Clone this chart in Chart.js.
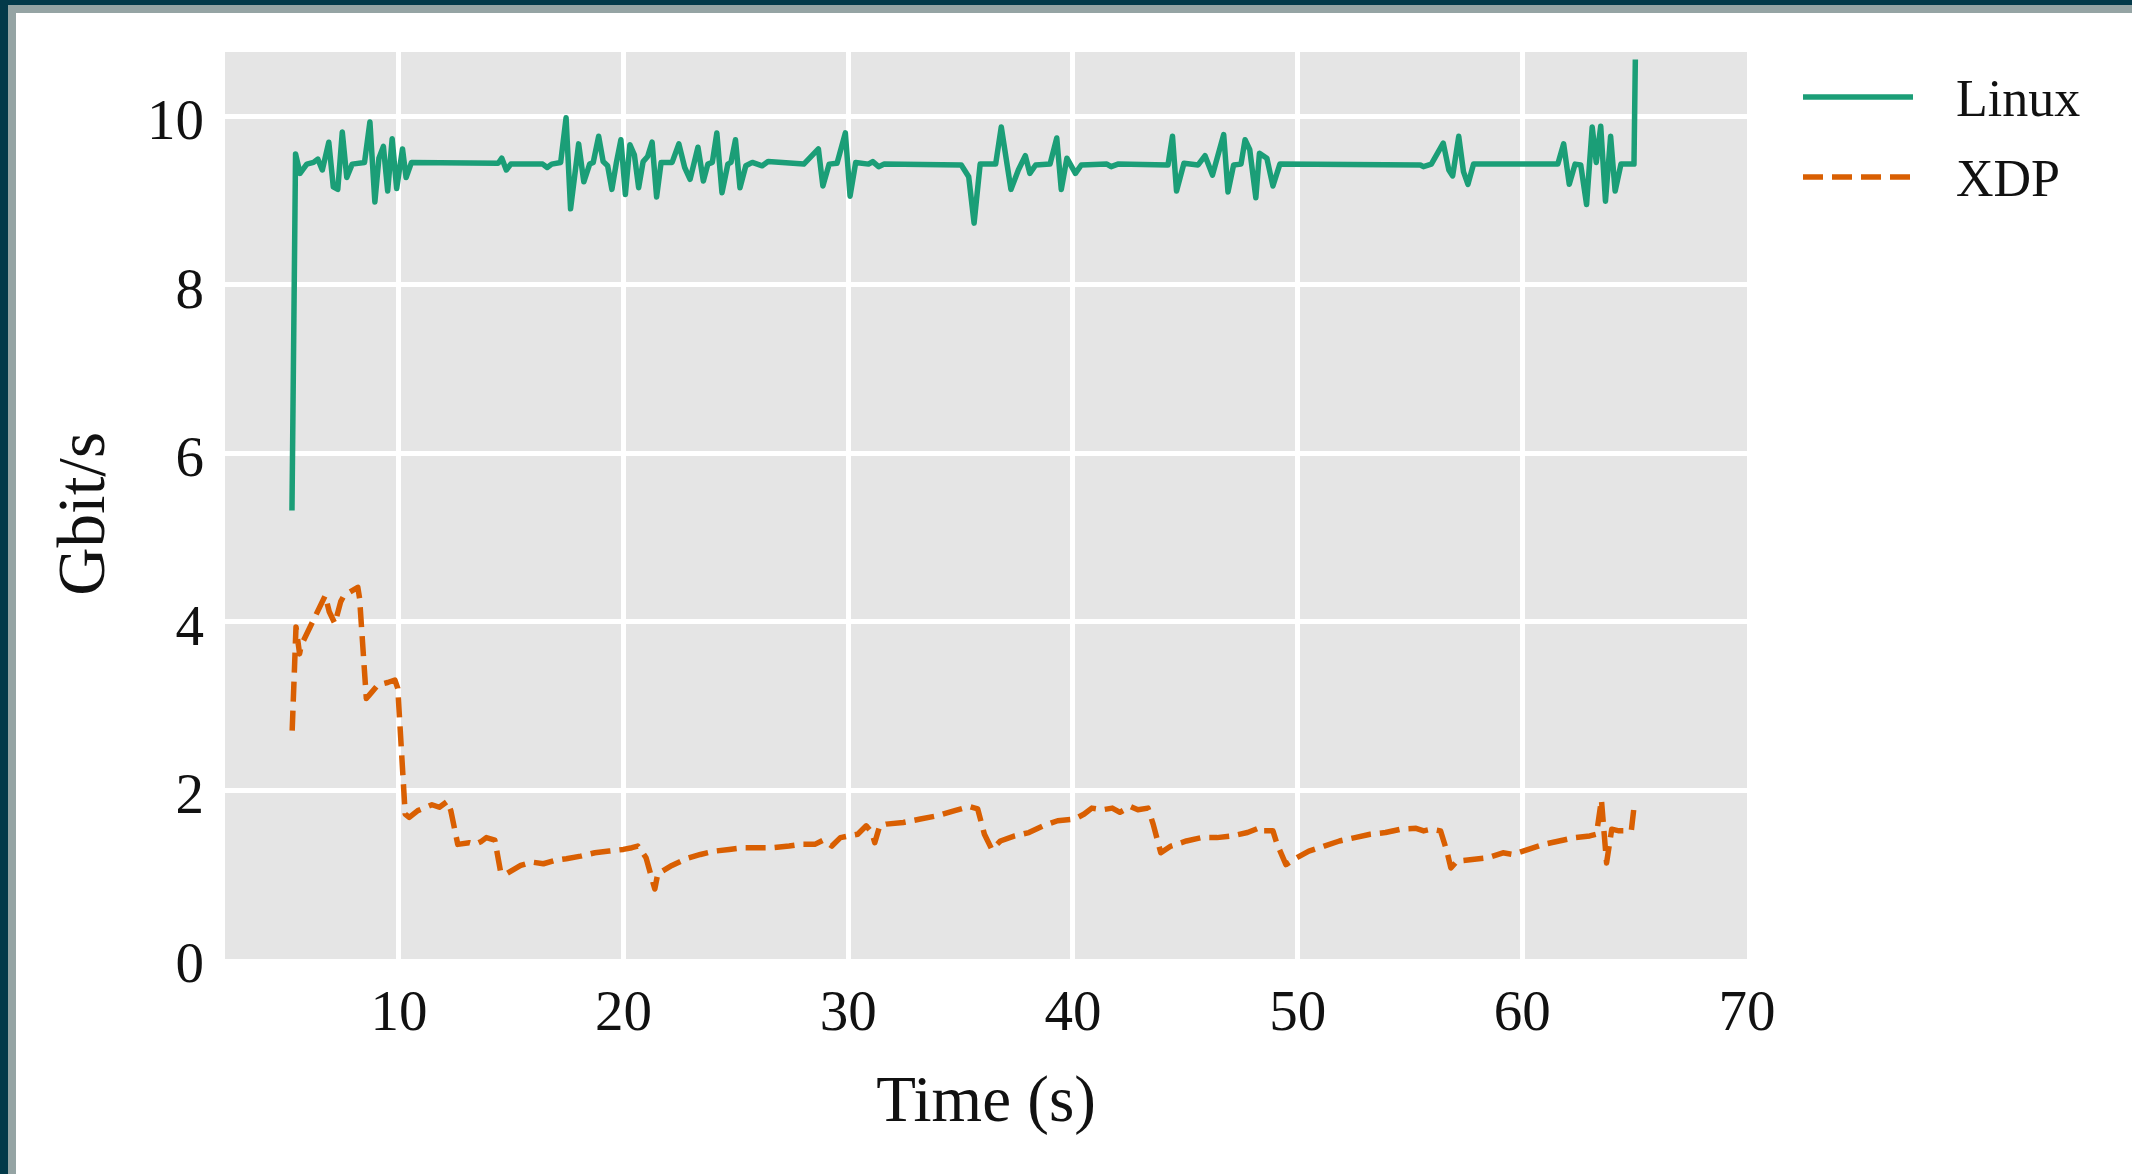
<!DOCTYPE html>
<html>
<head>
<meta charset="utf-8">
<title>Linux vs XDP throughput</title>
<script src="https://cdn.jsdelivr.net/npm/chart.js@4.4.1/dist/chart.umd.min.js"></script>
<style>
html, body { margin: 0; padding: 0; background: #fff; overflow: hidden; }
#frame { width: 2132px; height: 1174px; box-sizing: border-box; border-top: 5px solid #033a4a; border-left: 8px solid #033a4a; }
#inner { width: 2124px; height: 1169px; box-sizing: border-box; border-top: 8px solid #95a4a4; border-left: 8px solid #95a4a4; background: #fff; }
canvas { display: block; }
</style>
</head>
<body>
<div id="frame"><div id="inner"><canvas id="chart" width="2116" height="1161"></canvas></div></div>
<script>
// Linux throughput (Gbit/s) over time (s)
const linuxT = [5.24, 5.40, 5.60, 5.90, 6.20, 6.39, 6.59, 6.88, 7.08, 7.28, 7.48, 7.68, 7.92, 8.47, 8.71, 8.93, 9.11, 9.31, 9.50, 9.70,
  9.90, 10.16, 10.32, 10.56, 14.42, 14.58, 14.78, 14.98, 16.40, 16.60, 16.80, 17.20, 17.44, 17.64, 18.00, 18.23, 18.49, 18.65, 18.89, 19.09,
  19.29, 19.48, 19.68, 19.88, 20.08, 20.28, 20.48, 20.67, 20.87, 21.07, 21.27, 21.47, 21.67, 22.16, 22.46, 22.72, 22.96, 23.31, 23.55, 23.75,
  23.95, 24.15, 24.38, 24.64, 24.78, 24.98, 25.18, 25.44, 25.73, 26.17, 26.43, 28.02, 28.67, 28.87, 29.15, 29.50, 29.87, 30.08, 30.33, 30.90,
  31.09, 31.35, 31.60, 35.03, 35.36, 35.60, 35.87, 36.56, 36.81, 37.24, 37.57, 37.88, 38.08, 38.34, 38.98, 39.28, 39.48, 39.73, 40.11, 40.37,
  41.51, 41.70, 42.00, 44.23, 44.43, 44.61, 44.94, 45.57, 45.88, 46.21, 46.71, 46.90, 47.15, 47.48, 47.66, 47.87, 48.14, 48.30, 48.63, 48.90,
  49.21, 55.46, 55.60, 55.95, 56.48, 56.73, 56.90, 57.17, 57.38, 57.58, 57.83, 61.58, 61.84, 62.09, 62.35, 62.60, 62.86, 63.11, 63.29, 63.49,
  63.70, 63.93, 64.13, 64.39, 64.97, 65.03];
const linuxV = [5.32, 9.55, 9.32, 9.43, 9.45, 9.49, 9.36, 9.69, 9.16, 9.13, 9.81, 9.27, 9.43, 9.45, 9.93, 8.98, 9.50, 9.64, 9.11, 9.73,
  9.14, 9.61, 9.27, 9.45, 9.44, 9.50, 9.36, 9.43, 9.43, 9.39, 9.43, 9.45, 9.98, 8.90, 9.67, 9.22, 9.43, 9.45, 9.76, 9.46,
  9.41, 9.13, 9.45, 9.72, 9.07, 9.66, 9.54, 9.15, 9.46, 9.52, 9.69, 9.04, 9.45, 9.45, 9.67, 9.39, 9.25, 9.63, 9.23, 9.43,
  9.45, 9.80, 9.09, 9.43, 9.45, 9.72, 9.15, 9.41, 9.45, 9.41, 9.46, 9.43, 9.61, 9.17, 9.43, 9.44, 9.80, 9.05, 9.45, 9.43,
  9.46, 9.40, 9.43, 9.42, 9.28, 8.73, 9.43, 9.43, 9.87, 9.13, 9.36, 9.53, 9.32, 9.42, 9.43, 9.74, 9.13, 9.50, 9.32, 9.42,
  9.43, 9.40, 9.43, 9.42, 9.76, 9.11, 9.44, 9.42, 9.53, 9.30, 9.78, 9.10, 9.42, 9.43, 9.72, 9.60, 9.03, 9.56, 9.50, 9.17,
  9.43, 9.42, 9.40, 9.43, 9.68, 9.36, 9.29, 9.76, 9.34, 9.19, 9.43, 9.43, 9.67, 9.19, 9.43, 9.42, 8.95, 9.87, 9.45, 9.88,
  8.99, 9.76, 9.11, 9.43, 9.43, 10.67];

// XDP throughput (Gbit/s) over time (s)
const xdpT = [5.25, 5.42, 5.58, 5.65, 6.72, 6.90, 7.15, 7.41, 7.53, 7.79, 8.17, 8.25, 8.55, 8.68, 9.06, 9.50, 9.82, 9.95, 10.28, 10.46,
  10.84, 11.47, 11.80, 12.16, 12.31, 12.62, 13.13, 13.40, 13.64, 13.89, 14.27, 14.53, 14.78, 15.42, 15.92, 16.43, 16.94, 17.45, 18.09, 18.72,
  19.36, 19.99, 20.37, 20.63, 20.75, 21.00, 21.39, 21.52, 22.15, 22.79, 23.42, 24.06, 24.70, 25.33, 25.97, 26.60, 27.37, 27.87, 28.51, 28.89,
  29.27, 29.65, 30.42, 30.80, 31.05, 31.18, 31.40, 31.69, 32.45, 33.21, 33.98, 34.74, 35.38, 35.76, 36.06, 36.39, 36.77, 37.41, 38.04, 38.68,
  39.32, 40.08, 40.50, 40.84, 41.30, 41.75, 42.09, 42.55, 42.89, 43.34, 43.57, 43.91, 44.36, 45.05, 45.73, 46.41, 47.09, 47.77, 48.34, 48.45,
  48.90, 49.09, 49.48, 49.82, 50.50, 51.18, 51.86, 52.55, 53.23, 53.91, 54.59, 55.27, 55.61, 55.95, 56.36, 56.64, 56.82, 57.09, 57.77, 58.45,
  59.14, 59.59, 60.27, 60.95, 61.64, 62.32, 63.00, 63.30, 63.52, 63.75, 63.98, 64.30, 64.85, 65.00];
const xdpV = [2.71, 3.94, 3.62, 3.72, 4.31, 4.12, 3.98, 4.24, 4.30, 4.35, 4.41, 4.28, 3.09, 3.13, 3.25, 3.28, 3.31, 3.21, 1.72, 1.68,
  1.76, 1.83, 1.80, 1.87, 1.76, 1.36, 1.38, 1.36, 1.39, 1.44, 1.41, 1.03, 1.01, 1.11, 1.15, 1.13, 1.17, 1.19, 1.22, 1.26,
  1.28, 1.30, 1.32, 1.34, 1.30, 1.20, 0.83, 1.01, 1.11, 1.19, 1.24, 1.28, 1.30, 1.32, 1.32, 1.32, 1.34, 1.36, 1.36, 1.41,
  1.34, 1.44, 1.48, 1.58, 1.50, 1.38, 1.58, 1.60, 1.62, 1.66, 1.70, 1.76, 1.81, 1.78, 1.48, 1.30, 1.40, 1.46, 1.50, 1.58,
  1.64, 1.66, 1.72, 1.79, 1.77, 1.79, 1.74, 1.81, 1.77, 1.79, 1.60, 1.26, 1.34, 1.40, 1.44, 1.44, 1.46, 1.50, 1.56, 1.52,
  1.52, 1.36, 1.12, 1.18, 1.28, 1.34, 1.40, 1.44, 1.48, 1.50, 1.54, 1.55, 1.52, 1.54, 1.52, 1.28, 1.08, 1.16, 1.18, 1.20,
  1.26, 1.24, 1.30, 1.36, 1.40, 1.44, 1.46, 1.48, 1.89, 1.14, 1.54, 1.52, 1.52, 1.87];

const xTicks = [10, 20, 30, 40, 50, 60, 70];
const yTicks = [0, 2, 4, 6, 8, 10];

const serif = 'Liberation Serif';
const toPoints = (ts, vs) => ts.map((t, i) => ({ x: t, y: vs[i] }));

// grey panel behind the plot, ggplot style
const panelBackground = {
    id: 'panelBackground',
    beforeDraw(chart) {
        const { ctx, chartArea: a } = chart;
        ctx.save();
        ctx.fillStyle = '#e5e5e5';
        ctx.fillRect(a.left, a.top, a.right - a.left, a.bottom - a.top);
        ctx.restore();
    }
};

// legend to the right of the panel
const sideLegend = {
    id: 'sideLegend',
    afterDraw(chart) {
        const ctx = chart.ctx;
        const rows = [84, 164];
        ctx.save();
        chart.data.datasets.forEach((ds, i) => {
            const y = rows[i];
            ctx.strokeStyle = ds.borderColor;
            ctx.lineWidth = ds.borderWidth;
            ctx.lineCap = 'butt';
            ctx.setLineDash(ds.borderDash || []);
            ctx.beginPath();
            ctx.moveTo(1787, y);
            ctx.lineTo(1897, y);
            ctx.stroke();
            ctx.setLineDash([]);
            ctx.fillStyle = '#111';
            ctx.font = '52px "' + serif + '"';
            ctx.textBaseline = 'alphabetic';
            ctx.fillText(ds.label, 1940, y + 19);
        });
        ctx.restore();
    }
};

new Chart(document.getElementById('chart'), {
    type: 'line',
    data: {
        datasets: [
            {
                label: 'Linux',
                data: toPoints(linuxT, linuxV),
                borderColor: '#1b9e77',
                borderWidth: 5.5,
                borderJoinStyle: 'round',
                pointRadius: 0,
                tension: 0
            },
            {
                label: 'XDP',
                data: toPoints(xdpT, xdpV),
                borderColor: '#d95f02',
                borderWidth: 5.5,
                borderDash: [20, 9],
                borderJoinStyle: 'round',
                pointRadius: 0,
                tension: 0
            }
        ]
    },
    options: {
        responsive: false,
        animation: false,
        devicePixelRatio: 1,
        layout: { padding: { top: 39, right: 385, left: 0, bottom: 0 } },
        plugins: {
            legend: { display: false },
            tooltip: { enabled: false }
        },
        scales: {
            x: {
                type: 'linear',
                min: 2.26,
                max: 70,
                afterBuildTicks: s => { s.ticks = xTicks.map(v => ({ value: v })); },
                afterFit: s => { s.height = 215; s.paddingLeft = 0; s.paddingRight = 0; },
                grid: {
                    color: c => (c.tick && c.tick.value === 70) ? 'rgba(0,0,0,0)' : '#ffffff',
                    lineWidth: 5,
                    drawTicks: false
                },
                border: { display: false },
                ticks: {
                    color: '#111',
                    font: { family: serif, size: 57 },
                    padding: 22,
                    maxRotation: 0
                },
                title: {
                    display: true,
                    text: 'Time (s)',
                    color: '#111',
                    font: { family: serif, size: 65 },
                    padding: { top: 0, bottom: 31 }
                }
            },
            y: {
                min: 0,
                max: 10.76,
                afterBuildTicks: s => { s.ticks = yTicks.map(v => ({ value: v })); },
                afterFit: s => { s.width = 209; s.paddingTop = 0; s.paddingBottom = 0; },
                grid: {
                    color: c => (c.tick && c.tick.value === 0) ? 'rgba(0,0,0,0)' : '#ffffff',
                    lineWidth: 5,
                    drawTicks: false
                },
                border: { display: false },
                ticks: {
                    color: '#111',
                    font: { family: serif, size: 57 },
                    padding: 21,
                    labelOffset: 8
                },
                title: {
                    display: true,
                    // trailing space nudges the rotated label slightly down, as in the original
                    text: 'Gbit/s ',
                    color: '#111',
                    font: { family: serif, size: 67 },
                    padding: { top: 30, bottom: 0 }
                }
            }
        }
    },
    plugins: [panelBackground, sideLegend]
});
</script>
</body>
</html>
